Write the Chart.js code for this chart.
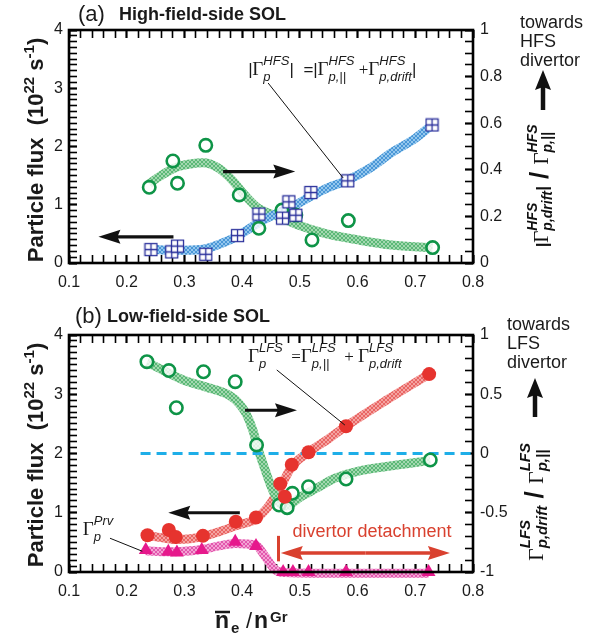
<!DOCTYPE html>
<html>
<head>
<meta charset="utf-8">
<script src="https://cdn.jsdelivr.net/npm/chart.js@4.4.1/dist/chart.umd.min.js"></script>
<style>
  html, body { margin: 0; padding: 0; background: #fff; }
  #wrap { position: relative; width: 599px; height: 641px; }
  canvas { position: absolute; left: 0; }
  #hfs { top: 0; }
  #lfs { top: 300px; }
</style>
</head>
<body>
<div id="wrap">
  <canvas id="hfs" width="599" height="300"></canvas>
  <canvas id="lfs" width="599" height="341"></canvas>
</div>
<script>
const SANS = '"Liberation Sans", Arial, Helvetica, sans-serif';
const SERIF = '"Liberation Serif", "Times New Roman", serif';
Chart.defaults.font.family = SANS;
Chart.defaults.color = '#1a1a1a';

// labelled ticks
const xTicks = [0.1, 0.2, 0.3, 0.4, 0.5, 0.6, 0.7, 0.8];
const fluxTicks = [0, 1, 2, 3, 4];
const hfsRatioTicks = [0, 0.2, 0.4, 0.6, 0.8, 1];
const lfsRatioTicks = [-1, -0.5, 0, 0.5, 1];
// minor tick positions
const xMinor = Array.from({ length: 36 }, (_, i) => (10 + 2 * i) / 100);
const fluxMinor = Array.from({ length: 41 }, (_, i) => i / 10);
const hfsRatioMinor = Array.from({ length: 21 }, (_, i) => (5 * i) / 100);
const lfsRatioMinor = Array.from({ length: 21 }, (_, i) => (i - 10) / 10);

// (a) high-field side: |Gamma_p^HFS| (squares, left) and ratio (circles, right)
const hfsSquareX = [0.242, 0.278, 0.288, 0.337, 0.392, 0.429, 0.470, 0.481, 0.493, 0.519, 0.583, 0.729];
const hfsSquareY = [0.23, 0.19, 0.29, 0.15, 0.47, 0.84, 0.77, 1.05, 0.82, 1.21, 1.41, 2.37];
const hfsCircleX = [0.239, 0.280, 0.288, 0.337, 0.395, 0.429, 0.469, 0.493, 0.521, 0.584, 0.730];
const hfsCircleY = [0.325, 0.438, 0.342, 0.505, 0.292, 0.149, 0.227, 0.206, 0.099, 0.182, 0.066];
const hfsFluxFitX = [0.242, 0.27, 0.30, 0.335, 0.36, 0.39, 0.43, 0.46, 0.49, 0.52, 0.55, 0.58, 0.62, 0.66, 0.70, 0.729];
const hfsFluxFitY = [0.24, 0.22, 0.22, 0.24, 0.32, 0.45, 0.70, 0.85, 0.98, 1.15, 1.30, 1.41, 1.62, 1.90, 2.14, 2.37];
const hfsRatioFitX = [0.239, 0.256, 0.285, 0.31, 0.333, 0.357, 0.381, 0.405, 0.428, 0.462, 0.497, 0.543, 0.601, 0.659, 0.730];
const hfsRatioFitY = [0.34, 0.37, 0.41, 0.425, 0.43, 0.41, 0.36, 0.29, 0.235, 0.20, 0.163, 0.127, 0.099, 0.077, 0.066];

// (b) low-field side: Gamma_p^LFS (red), Gamma_p^Prv (triangles), ratio (circles, right)
const lfsDotX = [0.236, 0.273, 0.285, 0.332, 0.389, 0.424, 0.466, 0.474, 0.486, 0.515, 0.580, 0.724];
const lfsDotY = [0.62, 0.71, 0.59, 0.61, 0.85, 0.92, 1.49, 1.27, 1.81, 2.02, 2.46, 3.34];
const prvTriX = [0.233, 0.272, 0.287, 0.330, 0.388, 0.424, 0.471, 0.488, 0.515, 0.580, 0.723];
const prvTriY = [0.37, 0.34, 0.33, 0.37, 0.51, 0.44, 0, 0, 0, 0, 0];
const lfsCircleX = [0.235, 0.273, 0.286, 0.333, 0.388, 0.425, 0.464, 0.478, 0.487, 0.515, 0.580, 0.726];
const lfsCircleY = [0.775, 0.70, 0.386, 0.69, 0.606, 0.072, -0.435, -0.457, -0.336, -0.28, -0.215, -0.055];
const lfsFluxFitX = [0.236, 0.26, 0.285, 0.31, 0.332, 0.36, 0.389, 0.424, 0.445, 0.466, 0.486, 0.515, 0.55, 0.580, 0.65, 0.724];
const lfsFluxFitY = [0.62, 0.58, 0.55, 0.56, 0.60, 0.68, 0.78, 0.90, 1.10, 1.42, 1.78, 2.02, 2.25, 2.46, 2.90, 3.34];
const prvFitX = [0.233, 0.272, 0.30, 0.330, 0.36, 0.388, 0.424, 0.44, 0.457, 0.475, 0.52, 0.60, 0.723];
const prvFitY = [0.36, 0.34, 0.35, 0.38, 0.44, 0.48, 0.45, 0.26, 0.04, -0.01, -0.02, -0.02, -0.02];
const lfsRatioFitX = [0.235, 0.256, 0.298, 0.338, 0.378, 0.395, 0.407, 0.419, 0.427, 0.44, 0.452, 0.465, 0.478, 0.50, 0.53, 0.56, 0.60, 0.65, 0.726];
const lfsRatioFitY = [0.77, 0.72, 0.62, 0.56, 0.49, 0.42, 0.335, 0.19, 0.05, -0.14, -0.30, -0.42, -0.44, -0.37, -0.29, -0.21, -0.15, -0.11, -0.06];
const zeroLineX = [0.224, 0.8];
const zeroLineY = [0, 0];

// annotation anchors in data units
const hfsArrowRight = [[0.367, 1.57], [0.492, 1.57]];
const hfsArrowLeft = [[0.281, 0.45], [0.151, 0.45]];
const hfsLeader = [[0.445, 3.09], [0.575, 1.46]];
const hfsNoteAt = [0.410, 3.23];
const lfsArrowRight = [[0.405, 2.73], [0.495, 2.73]];
const lfsArrowLeft = [[0.396, 1.0], [0.272, 1.0]];
const lfsLeader = [[0.460, 3.41], [0.578, 2.48]];
const lfsNoteAt = [0.410, 3.54];
const prvLeader = [[0.171, 0.57], [0.227, 0.35]];
const prvNoteAt = [0.124, 0.62];
const detachBar = [[0.463, 0.18], [0.463, 0.61]];
const detachArrow = [[0.467, 0.32], [0.760, 0.32]];
const detachTextAt = [0.625, 0.59];

function pts(xs, ys) { return xs.map((x, i) => ({ x, y: ys[i] })); }

function hatch(light, dark) {
  const c = document.createElement('canvas');
  c.width = 4; c.height = 4;
  const g = c.getContext('2d');
  g.fillStyle = light; g.fillRect(0, 0, 4, 4);
  g.fillStyle = dark;
  for (let i = 0; i < 4; i++) { g.fillRect(i, i, 1, 1); g.fillRect(3 - i, i, 1, 1); }
  return g.createPattern(c, 'repeat');
}

function squareMark() {
  const c = document.createElement('canvas');
  c.width = 15; c.height = 15;
  const g = c.getContext('2d');
  g.fillStyle = '#fff'; g.fillRect(1, 1, 13, 13);
  g.strokeStyle = '#2a2f9b'; g.lineWidth = 1.3;
  g.strokeRect(1.5, 1.5, 12, 12);
  g.beginPath();
  g.moveTo(7.5, 1.5); g.lineTo(7.5, 13.5);
  g.moveTo(1.5, 7.5); g.lineTo(13.5, 7.5);
  g.stroke();
  return c;
}

function fitLine(xs, ys, axis, pattern) {
  return {
    data: pts(xs, ys), yAxisID: axis, showLine: true, pointRadius: 0,
    borderWidth: 9, borderColor: pattern, cubicInterpolationMode: 'monotone',
    order: 10, clip: false
  };
}

// inward ticks: negative tick length, label padding compensates
const TL = -8;
function tickGrid(major) {
  return {
    display: true, drawOnChartArea: false, drawTicks: true, tickLength: TL,
    tickColor: '#000',
    tickWidth: c => (c.tick && major.includes(c.tick.value)) ? 2.2 : 1.6
  };
}

function axes(ratioTicks, ratioMinor, xHeight, topHeight) {
  const nb = { display: false };
  return {
    x: {
      type: 'linear', position: 'bottom', min: 0.1, max: 0.8, border: nb, grid: tickGrid(xTicks),
      afterBuildTicks: s => { s.ticks = xMinor.map(v => ({ value: v })); },
      afterFit: s => { s.height = xHeight; },
      ticks: {
        font: { size: 16 }, padding: 10 - TL, autoSkip: false, maxRotation: 0,
        callback: v => xTicks.includes(v) ? String(v) : ''
      }
    },
    xTop: {
      type: 'linear', position: 'top', min: 0.1, max: 0.8, border: nb, grid: tickGrid(xTicks),
      afterBuildTicks: s => { s.ticks = xMinor.map(v => ({ value: v })); },
      afterFit: s => { s.height = topHeight; },
      ticks: { display: false }
    },
    y: {
      position: 'left', min: 0, max: 4, border: nb, grid: tickGrid(fluxTicks),
      afterBuildTicks: s => { s.ticks = fluxMinor.map(v => ({ value: v })); },
      afterFit: s => { s.width = 69; },
      ticks: {
        font: { size: 16 }, padding: 6 - TL, autoSkip: false,
        callback: v => fluxTicks.includes(v) ? String(v) : ''
      }
    },
    y2: {
      position: 'right', min: ratioTicks[0], max: ratioTicks[ratioTicks.length - 1],
      border: nb, grid: tickGrid(ratioTicks),
      afterBuildTicks: s => { s.ticks = ratioMinor.map(v => ({ value: v })); },
      afterFit: s => { s.width = 126; },
      ticks: {
        font: { size: 16 }, padding: 7 - TL, autoSkip: false,
        callback: v => ratioTicks.includes(v) ? String(v) : ''
      }
    }
  };
}

function drawBox(chart) {
  const ctx = chart.ctx, a = chart.chartArea;
  ctx.save();
  ctx.strokeStyle = '#000';
  ctx.lineWidth = 2.6;
  ctx.strokeRect(a.left, a.top, a.right - a.left, a.bottom - a.top);
  ctx.restore();
}

function arrow(ctx, x1, y1, x2, y2, color, shaft, headLen, headHalf) {
  const ang = Math.atan2(y2 - y1, x2 - x1);
  const bx = x2 - Math.cos(ang) * headLen, by = y2 - Math.sin(ang) * headLen;
  ctx.strokeStyle = color; ctx.fillStyle = color; ctx.lineWidth = shaft;
  ctx.beginPath(); ctx.moveTo(x1, y1);
  ctx.lineTo(bx + Math.cos(ang) * 5, by + Math.sin(ang) * 5); ctx.stroke();
  ctx.beginPath();
  ctx.moveTo(x2, y2);
  ctx.lineTo(bx + Math.sin(ang) * headHalf, by - Math.cos(ang) * headHalf);
  ctx.lineTo(bx + Math.cos(ang) * 3, by + Math.sin(ang) * 3);
  ctx.lineTo(bx - Math.sin(ang) * headHalf, by + Math.cos(ang) * headHalf);
  ctx.closePath(); ctx.fill();
}

// text runs; {sub, sup} pairs are stacked
function rich(ctx, x, y, parts, measureOnly) {
  let cx = x;
  for (const p of parts) {
    ctx.font = p.f;
    if (p.t !== undefined) {
      if (!measureOnly) ctx.fillText(p.t, cx, y + (p.dy || 0));
      cx += ctx.measureText(p.t).width;
    } else {
      const w1 = ctx.measureText(p.sub).width, w2 = ctx.measureText(p.sup).width;
      if (!measureOnly) {
        ctx.fillText(p.sub, cx, y + p.subDy);
        ctx.fillText(p.sup, cx, y + p.supDy);
      }
      cx += Math.max(w1, w2);
    }
  }
  return cx - x;
}

function rotated(ctx, cx, cy, parts) {
  ctx.save();
  ctx.translate(cx, cy);
  ctx.rotate(-Math.PI / 2);
  ctx.textAlign = 'left'; ctx.textBaseline = 'alphabetic';
  const w = rich(ctx, 0, 0, parts, true);
  rich(ctx, -w / 2, 0, parts);
  ctx.restore();
}

function fluxTitle(ctx, cx, cy) {
  rotated(ctx, cx, cy, [
    { t: 'Particle flux  (10', f: 'bold 22px ' + SANS },
    { t: '22', f: 'bold 15px ' + SANS, dy: -9 },
    { t: ' s', f: 'bold 22px ' + SANS },
    { t: '-1', f: 'bold 15px ' + SANS, dy: -9 },
    { t: ')', f: 'bold 22px ' + SANS }
  ]);
}

function gammaPair(sub, sup, size, supDy, subDy, bold) {
  return { sub, sup, f: (bold ? 'bold ' : '') + 'italic ' + size + 'px ' + SANS, supDy, subDy };
}

function pix(chart, p, axis) {
  return [chart.scales.x.getPixelForValue(p[0]), chart.scales[axis || 'y'].getPixelForValue(p[1])];
}

function leader(chart, seg) {
  const [x1, y1] = pix(chart, seg[0]);
  const [x2, y2] = pix(chart, seg[1]);
  const ctx = chart.ctx;
  ctx.strokeStyle = '#111'; ctx.lineWidth = 1;
  ctx.beginPath(); ctx.moveTo(x1, y1); ctx.lineTo(x2, y2); ctx.stroke();
}

function blackArrow(chart, seg) {
  const [x1, y1] = pix(chart, seg[0]);
  const [x2, y2] = pix(chart, seg[1]);
  arrow(chart.ctx, x1, y1, x2, y2, '#111', 3.2, 22, 7);
}

function towards(ctx, x, y0, word, ax, tipY, tailY) {
  ctx.font = '18px ' + SANS;
  ctx.fillStyle = '#1a1a1a';
  ctx.textAlign = 'left';
  ctx.fillText('towards', x, y0);
  ctx.fillText(word, x, y0 + 19);
  ctx.fillText('divertor', x, y0 + 38);
  arrow(ctx, ax, tailY, ax, tipY, '#111', 4.5, 20, 8);
}

const hfsDecor = {
  id: 'hfsDecor',
  afterDatasetsDraw(chart) {
    const ctx = chart.ctx;
    ctx.save();
    blackArrow(chart, hfsArrowRight);
    blackArrow(chart, hfsArrowLeft);
    leader(chart, hfsLeader);
    ctx.fillStyle = '#1a1a1a';
    ctx.textAlign = 'left'; ctx.textBaseline = 'alphabetic';
    const [nx, ny] = pix(chart, hfsNoteAt);
    const G = '19px ' + SERIF, bar = 'italic 17px ' + SANS;
    rich(ctx, nx, ny, [
      { t: '|', f: bar }, { t: 'Γ', f: G }, gammaPair('p', 'HFS', 13, -10, 6),
      { t: '|  =|', f: bar }, { t: 'Γ', f: G }, gammaPair('p,||', 'HFS', 13, -10, 6),
      { t: ' +', f: '17px ' + SERIF }, { t: 'Γ', f: G }, gammaPair('p,drift', 'HFS', 13, -10, 6),
      { t: '|', f: bar }
    ]);

    // titles
    ctx.font = '22px ' + SANS;
    ctx.fillText('(a)', 78, 21);
    ctx.font = 'bold 18px ' + SANS;
    ctx.fillText('High-field-side SOL', 119, 20);
    fluxTitle(ctx, 43, 150);

    towards(ctx, 520, 28, 'HFS', 543, 70, 110);
    const G2 = '21px ' + SERIF, b2 = 'bold italic 17px ' + SANS;
    rotated(ctx, 548, 186, [
      { t: '|', f: b2 }, { t: 'Γ', f: G2 }, gammaPair('p,drift', 'HFS', 14, -11, 4, true),
      { t: '|', f: b2 }, { t: ' / ', f: 'bold 26px ' + SANS },
      { t: 'Γ', f: G2 }, gammaPair('p,||', 'HFS', 14, -11, 4, true)
    ]);
    ctx.restore();
  },
  afterDraw(chart) { drawBox(chart); }
};

const lfsDecor = {
  id: 'lfsDecor',
  afterDatasetsDraw(chart) {
    const ctx = chart.ctx;
    ctx.save();
    blackArrow(chart, lfsArrowRight);
    blackArrow(chart, lfsArrowLeft);
    leader(chart, lfsLeader);
    leader(chart, prvLeader);

    // detachment marker
    const red = '#d9412f';
    const [bx1, by1] = pix(chart, detachBar[0]);
    const [, by2] = pix(chart, detachBar[1]);
    ctx.strokeStyle = red; ctx.lineWidth = 3;
    ctx.beginPath(); ctx.moveTo(bx1, by1); ctx.lineTo(bx1, by2); ctx.stroke();
    const [ax1, ay] = pix(chart, detachArrow[0]);
    const [ax2] = pix(chart, detachArrow[1]);
    const mid = (ax1 + ax2) / 2;
    arrow(ctx, mid, ay, ax1, ay, red, 3.5, 22, 7);
    arrow(ctx, mid, ay, ax2, ay, red, 3.5, 22, 7);
    const [tx, ty] = pix(chart, detachTextAt);
    ctx.fillStyle = red; ctx.font = '18px ' + SANS; ctx.textAlign = 'center';
    ctx.fillText('divertor detachment', tx, ty);

    ctx.fillStyle = '#1a1a1a';
    ctx.textAlign = 'left'; ctx.textBaseline = 'alphabetic';
    const G = '19px ' + SERIF;
    const [nx, ny] = pix(chart, lfsNoteAt);
    rich(ctx, nx, ny, [
      { t: 'Γ', f: G }, gammaPair('p', 'LFS', 13, -10, 6),
      { t: '  =', f: '17px ' + SERIF }, { t: 'Γ', f: G }, gammaPair('p,||', 'LFS', 13, -10, 6),
      { t: '  + ', f: '17px ' + SERIF }, { t: 'Γ', f: G }, gammaPair('p,drift', 'LFS', 13, -10, 6)
    ]);
    const [px, py] = pix(chart, prvNoteAt);
    rich(ctx, px, py, [{ t: 'Γ', f: G }, gammaPair('p', 'Prv', 13, -10, 6)]);

    // titles
    ctx.font = '22px ' + SANS;
    ctx.fillText('(b)', 75, 23);
    ctx.font = 'bold 18px ' + SANS;
    ctx.fillText('Low-field-side SOL', 107, 22);
    fluxTitle(ctx, 43, 155);

    // x title: n_e bar / n^Gr
    ctx.font = 'bold 23px ' + SANS;
    ctx.fillText('n', 215, 328);
    ctx.lineWidth = 2.5; ctx.strokeStyle = '#1a1a1a';
    ctx.beginPath(); ctx.moveTo(215, 312); ctx.lineTo(230, 312); ctx.stroke();
    ctx.font = 'bold 15px ' + SANS;
    ctx.fillText('e', 231, 333);
    ctx.font = '22px ' + SANS;
    ctx.fillText('/', 246, 328);
    ctx.font = 'bold 23px ' + SANS;
    ctx.fillText('n', 254, 328);
    ctx.font = 'bold 15px ' + SANS;
    ctx.fillText('Gr', 270, 322);

    towards(ctx, 507, 30, 'LFS', 535, 78, 117);
    const G2 = '22px ' + SERIF;
    rotated(ctx, 543, 202, [
      { t: 'Γ', f: G2 }, gammaPair('p,drift', 'LFS', 15, -13, 4, true),
      { t: ' / ', f: 'bold 26px ' + SANS },
      { t: 'Γ', f: G2 }, gammaPair('p,||', 'LFS', 15, -13, 4, true)
    ]);
    ctx.restore();
  },
  afterDraw(chart) { drawBox(chart); }
};

const baseOpts = {
  responsive: false,
  animation: false,
  events: [],
  devicePixelRatio: 1,
  plugins: { legend: { display: false }, tooltip: { enabled: false } }
};

new Chart(document.getElementById('hfs'), {
  type: 'scatter',
  data: {
    datasets: [
      fitLine(hfsFluxFitX, hfsFluxFitY, 'y', hatch('#94c7ee', '#4a97d6')),
      fitLine(hfsRatioFitX, hfsRatioFitY, 'y2', hatch('#a3d9b0', '#5cb877')),
      {
        data: pts(hfsCircleX, hfsCircleY), yAxisID: 'y2', pointStyle: 'circle',
        pointRadius: 6.2, pointBorderWidth: 2.6, pointBorderColor: '#0e9447',
        pointBackgroundColor: 'rgba(255,255,255,0.8)', order: 2, clip: false
      },
      {
        data: pts(hfsSquareX, hfsSquareY), yAxisID: 'y', pointStyle: squareMark(),
        pointRadius: 7, order: 1, clip: false
      }
    ]
  },
  options: {
    ...baseOpts,
    layout: { padding: 0 },
    scales: axes(hfsRatioTicks, hfsRatioMinor, 37, 30)
  },
  plugins: [hfsDecor]
});

new Chart(document.getElementById('lfs'), {
  type: 'scatter',
  data: {
    datasets: [
      {
        data: pts(zeroLineX, zeroLineY), yAxisID: 'y2', showLine: true, pointRadius: 0,
        borderColor: '#1eaee8', borderWidth: 3, borderDash: [10, 6], order: 9, clip: false
      },
      fitLine(lfsRatioFitX, lfsRatioFitY, 'y2', hatch('#a3d9b0', '#5cb877')),
      fitLine(lfsFluxFitX, lfsFluxFitY, 'y', hatch('#f5a3a1', '#e86664')),
      fitLine(prvFitX, prvFitY, 'y', hatch('#f4a3d4', '#e258ae')),
      {
        data: pts(lfsCircleX, lfsCircleY), yAxisID: 'y2', pointStyle: 'circle',
        pointRadius: 6.2, pointBorderWidth: 2.6, pointBorderColor: '#0e9447',
        pointBackgroundColor: 'rgba(255,255,255,0.8)', order: 3, clip: false
      },
      {
        data: pts(lfsDotX, lfsDotY), yAxisID: 'y', pointStyle: 'circle',
        pointRadius: 7, pointBorderWidth: 0, pointBackgroundColor: '#e6332e', order: 2, clip: false
      },
      {
        data: pts(prvTriX, prvTriY), yAxisID: 'y', pointStyle: 'triangle',
        pointRadius: 8, pointBorderWidth: 0, pointBackgroundColor: '#e6198c', order: 1, clip: false
      }
    ]
  },
  options: {
    ...baseOpts,
    layout: { padding: 0 },
    scales: axes(lfsRatioTicks, lfsRatioMinor, 69, 35)
  },
  plugins: [lfsDecor]
});
</script>
</body>
</html>
